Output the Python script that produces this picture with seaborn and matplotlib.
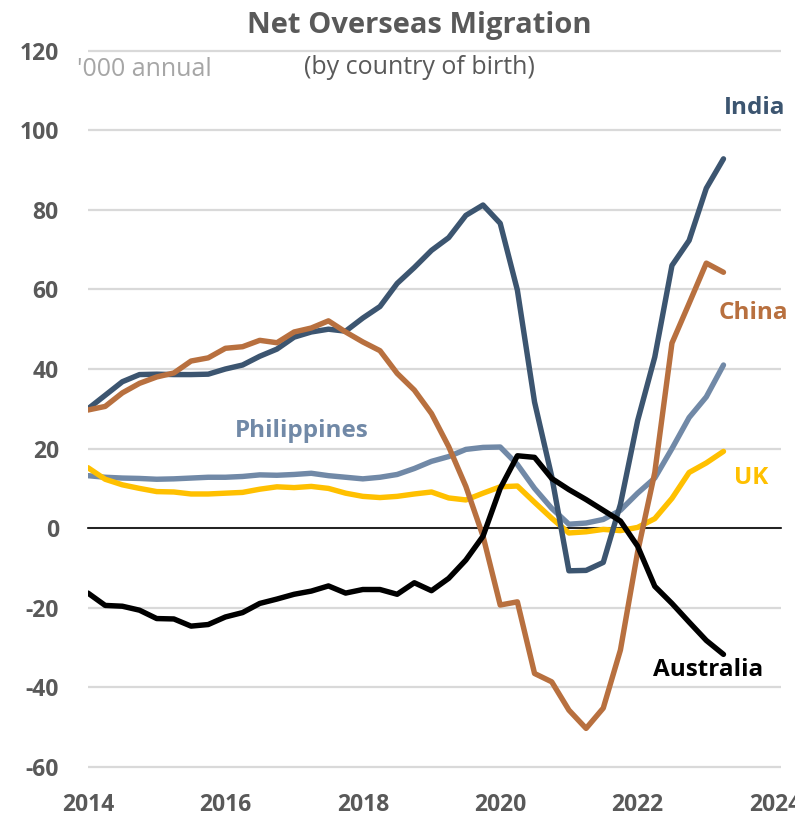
import numpy as np
import pandas as pd
import matplotlib
matplotlib.use("Agg")
import matplotlib.pyplot as plt
import matplotlib.transforms as mtransforms
import seaborn as sns

# ---------------- data ('000, annual, quarterly from 2014 Q1) ----------------
quarters = [2014 + 0.25 * k for k in range(38)]

india = [30.0, 33.4, 36.8, 38.6, 38.7, 38.6, 38.6, 38.7, 40.0, 41.0,
         43.2, 45.0, 48.0, 49.3, 50.0, 49.5, 52.8, 55.7, 61.5, 65.5,
         69.8, 73.0, 78.6, 81.2, 76.6, 59.8, 31.7, 13.0, -10.7, -10.6,
         -8.6, 6.0, 27.0, 43.0, 66.0, 72.3, 85.4, 92.8]

china = [29.7, 30.6, 34.0, 36.4, 38.0, 39.0, 42.0, 42.8, 45.2, 45.6,
         47.2, 46.6, 49.3, 50.3, 52.1, 49.3, 46.8, 44.6, 38.9, 34.7,
         28.8, 20.5, 10.5, -2.0, -19.3, -18.5, -36.5, -38.6, -45.7, -50.3,
         -45.2, -30.6, -6.0, 14.0, 46.5, 56.5, 66.6, 64.3]

philippines = [13.2, 12.8, 12.6, 12.5, 12.3, 12.4, 12.6, 12.8, 12.8, 13.0,
               13.4, 13.3, 13.5, 13.8, 13.2, 12.8, 12.4, 12.8, 13.5, 15.0,
               16.8, 18.0, 19.8, 20.3, 20.4, 16.0, 10.0, 5.0, 1.0, 1.3,
               2.2, 4.5, 8.8, 12.6, 20.0, 27.8, 33.0, 41.0]

uk = [15.2, 12.3, 10.9, 10.0, 9.2, 9.1, 8.6, 8.6, 8.8, 9.0,
      9.8, 10.4, 10.2, 10.5, 10.0, 8.8, 8.0, 7.7, 8.0, 8.6,
      9.1, 7.6, 7.1, 8.8, 10.4, 10.6, 6.5, 2.5, -1.2, -0.9,
      -0.3, -0.6, 0.2, 2.4, 7.5, 14.0, 16.4, 19.3]

australia = [-16.3, -19.4, -19.6, -20.6, -22.7, -22.8, -24.6, -24.2, -22.3, -21.2,
             -18.9, -17.8, -16.6, -15.8, -14.5, -16.3, -15.4, -15.4, -16.6, -13.7,
             -15.7, -12.6, -8.0, -2.0, 10.0, 18.2, 17.8, 12.5, 9.7, 7.2,
             4.5, 1.8, -4.5, -14.6, -18.9, -23.6, -28.2, -31.7]

series_names = ["Philippines", "UK", "India", "China", "Australia"]
series_values = [philippines, uk, india, china, australia]
colors = {"India": "#3c5570", "China": "#b8703f", "Philippines": "#7189a7",
          "UK": "#ffc000", "Australia": "#000000"}

x_ticks = [2014, 2016, 2018, 2020, 2022, 2024]
y_ticks = [-60, -40, -20, 0, 20, 40, 60, 80, 100, 120]

df = pd.DataFrame({
    "quarter": np.tile(quarters, len(series_names)),
    "value": np.concatenate(series_values),
    "country": np.repeat(series_names, len(quarters)),
})

# ---------------- style ----------------
sns.set_style("white")
plt.rcParams["font.family"] = ["Open Sans", "DejaVu Sans"]
TXT = "#595959"

fig = plt.figure(figsize=(7.95, 8.16), dpi=100)
ax = fig.add_axes([88 / 795, 45 / 816, 692.5 / 795, 724.4 / 816])

sns.lineplot(data=df, x="quarter", y="value", hue="country",
             hue_order=series_names, palette=colors, linewidth=3.9,
             legend=False, ax=ax, zorder=3)

ax.set_xlim(2014, 2024.08)
ax.set_ylim(-61, 121)
ax.set_xlabel("")
ax.set_ylabel("")

# grid
ax.set_yticks(y_ticks)
ax.yaxis.grid(True, color="#d9d9d9", linewidth=1.6, zorder=0)
ax.xaxis.grid(False)
ax.set_axisbelow(True)
ax.set_yticklabels([str(v) for v in y_ticks], fontsize=16.5, fontweight="bold", color=TXT)
ax.tick_params(axis="y", length=0, pad=21)

# x axis at zero with downward ticks
for s in ["left", "right", "top"]:
    ax.spines[s].set_visible(False)
ax.spines["bottom"].set_position(("data", 0))
ax.spines["bottom"].set_color("black")
ax.spines["bottom"].set_linewidth(1.2)
ax.spines["bottom"].set_zorder(2)
ax.set_xticks(x_ticks)
ax.tick_params(axis="x", direction="out", length=6.5, width=1.2, color="black",
               labelbottom=False)

trans = mtransforms.blended_transform_factory(ax.transData, fig.transFigure)
for t in x_ticks:
    ax.text(t, 1 - 805 / 816, str(t), transform=trans, ha="center", va="center",
            fontsize=16.5, fontweight="bold", color=TXT, clip_on=False)

# titles
fig.text(419 / 795, 1 - 25 / 816, "Net Overseas Migration", ha="center", va="center",
         fontsize=21, fontweight="bold", color=TXT)
fig.text(419 / 795, 1 - 68 / 816, "(by country of birth)", ha="center", va="center",
         fontsize=18, color=TXT)
fig.text(77 / 795, 1 - 70 / 816, "'000 annual", ha="left", va="center",
         fontsize=18, color="#a6a6a6")

# series labels
labels = [("India", 2023.71, 105.5), ("China", 2023.69, 54.0),
          ("Philippines", 2017.11, 24.4), ("UK", 2023.65, 12.6),
          ("Australia", 2023.02, -35.7)]
for name, lx, ly in labels:
    ax.text(lx, ly, name, ha="center", va="center", fontsize=17.5,
            fontweight="bold", color=colors[name], clip_on=False)

fig.savefig("out.png", dpi=100)
